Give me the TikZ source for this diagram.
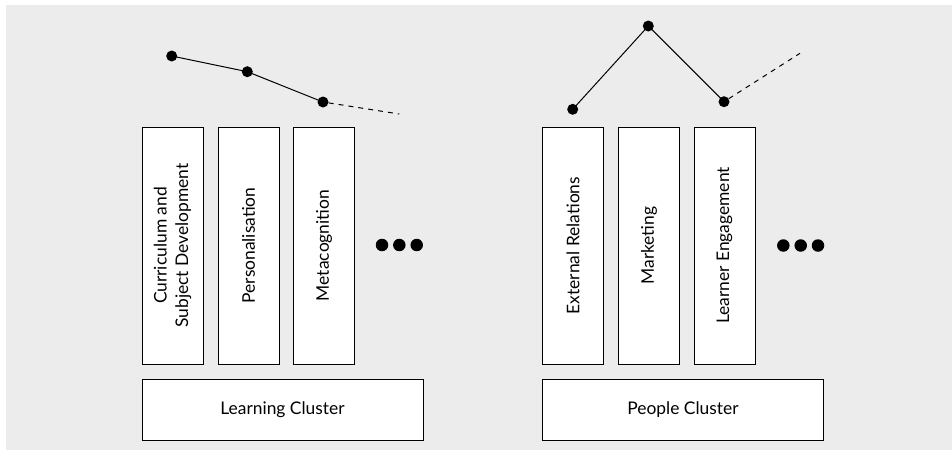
\documentclass[tikz,border=0pt]{standalone}
\usepackage{fontspec}
\setmainfont{Lato}
\begin{document}
\begin{tikzpicture}[x=1pt,y=-1pt,
  colbox/.style={draw=black,fill=white,line width=0.9pt,minimum width=61pt,minimum height=237pt,inner sep=0pt},
  basebox/.style={draw=black,fill=white,line width=0.9pt,minimum width=281pt,minimum height=61pt,inner sep=0pt,font=\fontsize{17.4}{21}\selectfont},
  vlabel/.style={rotate=90,font=\fontsize{17.4}{21.5}\selectfont,align=center},
  pt/.style={circle,fill=black,inner sep=0pt,minimum size=11pt},
  bigdot/.style={circle,fill=black,inner sep=0pt,minimum size=12.5pt},
  trend/.style={line width=1pt},
  trenddash/.style={line width=1pt,dash pattern=on 5pt off 5pt}]
\useasboundingbox (0,0) rectangle (952,450);
\fill[fill={rgb,255:red,236;green,236;blue,236}] (6,5) rectangle (952,450);

% Left group
\node[colbox] (c1) at (172.5,245.5) {};
\node[vlabel] at (c1.center) {Curriculum and\\Subject Development};
\node[colbox] (c2) at (248.5,245.5) {};
\node[vlabel] at (c2.center) {Personalisation};
\node[colbox] (c3) at (324,245.5) {};
\node[vlabel] at (c3.center) {Metacognition};
\node[basebox] (lc) at (282.5,409.5) {Learning Cluster};
\node[bigdot] (ld1) at (382,245) {};
\node[bigdot] (ld2) at (399.3,245) {};
\node[bigdot] (ld3) at (416.7,245) {};

\node[pt] (lp1) at (171.7,56) {};
\node[pt] (lp2) at (247.3,71.7) {};
\node[pt] (lp3) at (323,102) {};
\coordinate (lend) at (399.3,114);
\draw[trend] (lp1.center) -- (lp2.center) -- (lp3.center);
\draw[trenddash] (lp3) -- (lend);

% Right group
\node[colbox] (p1) at (573,245.5) {};
\node[vlabel] at (p1.center) {External Relations};
\node[colbox] (p2) at (649,245.5) {};
\node[vlabel] at (p2.center) {Marketing};
\node[colbox] (p3) at (724.5,245.5) {};
\node[vlabel] at (p3.center) {Learner Engagement};
\node[basebox] (pc) at (683,409.5) {People Cluster};
\node[bigdot] (rd1) at (783.3,245.5) {};
\node[bigdot] (rd2) at (800.7,245.5) {};
\node[bigdot] (rd3) at (818,245.5) {};

\node[pt] (rp1) at (572.7,109.3) {};
\node[pt] (rp2) at (648.3,26) {};
\node[pt] (rp3) at (724,101.7) {};
\coordinate (rend) at (800,53.3);
\draw[trend] (rp1.center) -- (rp2.center) -- (rp3.center);
\draw[trenddash] (rp3) -- (rend);
\end{tikzpicture}
\end{document}
